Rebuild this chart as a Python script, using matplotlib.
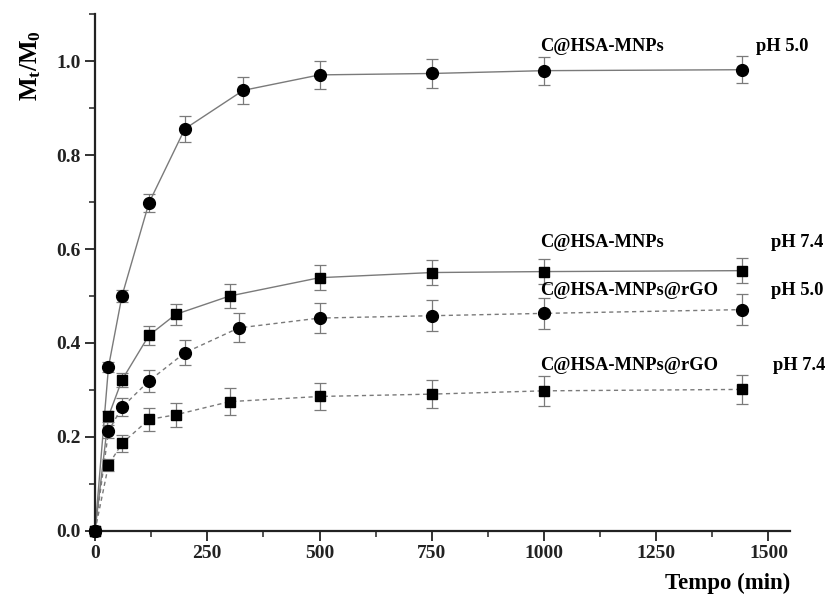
import matplotlib
matplotlib.use("Agg")
import matplotlib.pyplot as plt
from matplotlib.ticker import MultipleLocator

# ---- data ----
t_c50 = [0, 30, 60, 120, 200, 330, 500, 750, 1000, 1440]
y_c50 = [0.0, 0.349, 0.500, 0.698, 0.856, 0.938, 0.971, 0.974, 0.980, 0.982]
e_c50 = [0.0, 0.010, 0.012, 0.020, 0.027, 0.028, 0.030, 0.030, 0.030, 0.029]

t_c74 = [0, 30, 60, 120, 180, 300, 500, 750, 1000, 1440]
y_c74 = [0.0, 0.244, 0.321, 0.416, 0.461, 0.500, 0.539, 0.550, 0.552, 0.554]
e_c74 = [0.0, 0.012, 0.014, 0.020, 0.023, 0.025, 0.027, 0.027, 0.027, 0.027]

t_r50 = [0, 30, 60, 120, 200, 320, 500, 750, 1000, 1440]
y_r50 = [0.0, 0.212, 0.263, 0.319, 0.379, 0.432, 0.453, 0.458, 0.463, 0.471]
e_r50 = [0.0, 0.014, 0.019, 0.023, 0.027, 0.031, 0.032, 0.033, 0.033, 0.033]

t_r74 = [0, 30, 60, 120, 180, 300, 500, 750, 1000, 1440]
y_r74 = [0.0, 0.140, 0.186, 0.237, 0.247, 0.275, 0.286, 0.291, 0.298, 0.301]
e_r74 = [0.0, 0.012, 0.018, 0.024, 0.026, 0.028, 0.028, 0.030, 0.032, 0.030]

labels = ["C@HSA-MNPs", "C@HSA-MNPs", "C@HSA-MNPs@rGO", "C@HSA-MNPs@rGO"]
ph_labels = ["pH 5.0", "pH 7.4", "pH 5.0", "pH 7.4"]

plt.rcParams['font.family'] = ['Liberation Serif', 'DejaVu Serif']
plt.rcParams['font.weight'] = 'bold'
plt.rcParams['mathtext.fontset'] = 'custom'
plt.rcParams['mathtext.rm'] = 'Liberation Serif:bold'
plt.rcParams['mathtext.bf'] = 'Liberation Serif:bold'
plt.rcParams['mathtext.it'] = 'Liberation Serif:bold'

fig = plt.figure(figsize=(8.27, 5.97), dpi=100)
ax = fig.add_axes([0.1149, 0.111, 0.8404, 0.865])

line_col = '#7a7a7a'
series = [
    (t_c50, y_c50, e_c50, 'o', '-', 8.5),
    (t_c74, y_c74, e_c74, 's', '-', 7.5),
    (t_r50, y_r50, e_r50, 'o', (0, (3, 2.5)), 8.5),
    (t_r74, y_r74, e_r74, 's', (0, (3, 2.5)), 7.5),
]
for t, y, e, mk, ls, ms in series:
    ax.errorbar(t, y, yerr=e, fmt='none', ecolor=line_col, elinewidth=0.9,
                capsize=4, capthick=0.9, zorder=2)
    ax.plot(t, y, color=line_col, lw=1.0, ls=ls, zorder=2)
    ax.plot(t, y, ls='none', marker=mk, ms=ms, color='black', zorder=3,
            clip_on=False)

# annotations
lab_pos = [(991, 1.032), (991, 0.614), (991, 0.511), (991, 0.353)]
ph_pos = [(1472, 1.032), (1505, 0.614), (1505, 0.511), (1510, 0.353)]
for (x, y), s in zip(lab_pos, labels):
    ax.text(x, y, s, fontsize=13.3, fontweight='bold', ha='left', va='center')
for (x, y), s in zip(ph_pos, ph_labels):
    ax.text(x, y, s, fontsize=13.3, fontweight='bold', ha='left', va='center')

ax.set_xlim(0, 1548)
ax.set_ylim(0, 1.1)
ax.xaxis.set_major_locator(MultipleLocator(250))
ax.xaxis.set_minor_locator(MultipleLocator(125))
ax.yaxis.set_major_locator(MultipleLocator(0.2))
ax.yaxis.set_minor_locator(MultipleLocator(0.1))
ax.yaxis.set_major_formatter(matplotlib.ticker.FormatStrFormatter('%.1f'))

for sp in ['top', 'right']:
    ax.spines[sp].set_visible(False)
for sp in ['left', 'bottom']:
    ax.spines[sp].set_linewidth(1.6)
    ax.spines[sp].set_color('#222222')

ax.tick_params(axis='both', which='major', direction='out', length=7.5, width=1.3,
               labelsize=14, colors='#222222', pad=3)
ax.tick_params(axis='both', which='minor', direction='out', length=4.5, width=1.1,
               colors='#222222')
for lbl in ax.get_xticklabels() + ax.get_yticklabels():
    lbl.set_fontweight('bold')

ax.set_ylabel(r'$\mathbf{M_t/M_0}$', fontsize=18)
ax.yaxis.set_label_coords(-0.075, 0.90)
fig.text(0.955, 0.023, 'Tempo (min)', fontsize=16.5, fontweight='bold',
         ha='right', va='center')

fig.savefig('out.png', dpi=100)
